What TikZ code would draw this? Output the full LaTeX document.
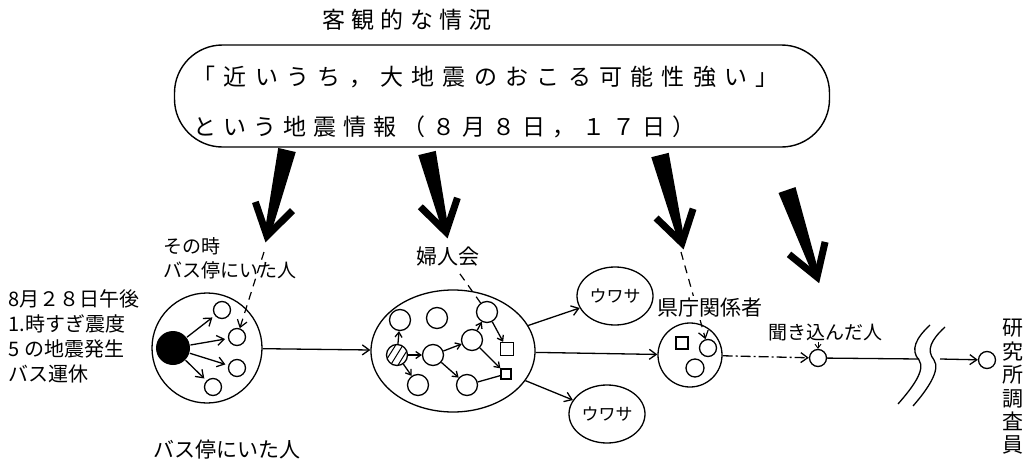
\documentclass[tikz,border=0pt]{standalone}
\usepackage{fontspec}
\setmainfont{Noto Sans CJK JP}
\usetikzlibrary{arrows.meta,calc,shapes.geometric}
\newcommand\fatarrow[2]{%
  \fill ($(#1)!9pt!90:(#2)$) -- ($(#1)!9pt!-90:(#2)$) -- ($(#2)!3pt!90:(#1)$) -- ($(#2)!3pt!-90:(#1)$) -- cycle;
  \draw[line width=7pt, line join=miter, line cap=butt] ($(#2)!36pt!32:(#1)$) -- (#2) -- ($(#2)!36pt!-32:(#1)$);
}
\begin{document}
\begin{tikzpicture}[x=1pt,y=-1pt,
  line width=1.3pt,
  >={Straight Barb[length=7pt,width=10pt]},
  sa/.style={-{Straight Barb[length=5pt,width=7pt]}},
  sc/.style={draw,circle,minimum size=17pt,inner sep=0pt},
  mc/.style={draw,circle,minimum size=21pt,inner sep=0pt},
  sq/.style={draw,rectangle,minimum size=#1,inner sep=0pt},
  dsh/.style={dash pattern=on 8pt off 6pt,line width=1.2pt},
  ff/.style={font=\fontsize{#1}{#1}\selectfont,inner sep=0pt},
  wide/.style={font=\fontsize{23}{27}\selectfont\addfontfeature{LetterSpace=#1},inner sep=0pt}
]
\useasboundingbox (0,0) rectangle (1031,463);

% title and info box
\node[font=\fontsize{23}{27}\selectfont\addfontfeature{LetterSpace=27},inner sep=0pt] (title) at (407,20) {客観的な情況};
\node[draw,rounded corners=48pt,minimum width=655pt,minimum height=102pt,line width=1.4pt] (box) at (502,96) {};
\node[wide=36,anchor=west] (l1) at (192,77) {「近いうち，大地震のおこる可能性強い」};
\node[wide=30,anchor=west] (l2) at (193,127) {という地震情報（８月８日，１７日）};

% big arrows
\coordinate (a1s) at (287,150); \coordinate (a1t) at (267,236);
\coordinate (a2s) at (427,153); \coordinate (a2t) at (446,232);
\coordinate (a3s) at (660,155); \coordinate (a3t) at (682,243);
\coordinate (a4s) at (787,190); \coordinate (a4t) at (817,277);
\fatarrow{a1s}{a1t}
\fatarrow{a2s}{a2t}
\fatarrow{a3s}{a3t}
\fatarrow{a4s}{a4t}

% left text
\node[anchor=north west,align=left,font=\fontsize{20}{25}\selectfont,inner sep=0pt] (event) at (8,289) {8月２８日午後\\1.時すぎ震度\\5 の地震発生\\バス運休};

% group 1: bus stop
\node[draw,circle,minimum size=110pt,inner sep=0pt] (c1) at (207,348) {};
\node[circle,fill=black,minimum size=34pt,inner sep=0pt] (dot) at (173,348) {};
\node[sc] (s1) at (222,310) {};
\node[sc] (s2) at (237,337) {};
\node[sc] (s3) at (237,368) {};
\node[sc] (s4) at (213,387) {};
\foreach \t in {s1,s2,s3,s4} \draw[->,shorten >=3pt] (dot) -- (\t);
\node[anchor=north west,align=left,font=\fontsize{19}{24}\selectfont,inner sep=0pt] (sonotoki) at (163,237) {その時\\バス停にいた人};
\coordinate (d1) at (264,252);
\draw[dsh,->] (d1) -- (s2);
\node[ff=21] (busstop) at (227,450) {バス停にいた人};

% group 2: women's association
\node[draw,ellipse,minimum width=164pt,minimum height=122pt,inner sep=0pt] (e2) at (453,351) {};
\node[mc] (A) at (400,320) {};
\node[mc] (B) at (437,318) {};
\node[mc] (C) at (397,355) {};
\begin{scope}
\clip (397,355) circle (10.5pt);
\draw[line width=1pt] (385,362) -- (397,343) (390,366) -- (403,345) (395,370) -- (408,349);
\end{scope}
\node[mc] (D) at (433,355) {};
\node[mc] (E) at (472,340) {};
\node[mc] (F) at (487,312) {};
\node[mc] (G) at (418,385) {};
\node[mc] (H) at (467,385) {};
\node[sq=13pt] (S1) at (507,349) {};
\node[sq=10pt] (S2) at (506,374) {};
\draw[sa] (C) -- (A);
\draw[sa] (C) -- (D);
\draw[sa] (C) -- (G);
\draw[sa] (D) -- (E);
\draw[sa] (D) -- (H);
\draw[sa] (E) -- (F);
\draw[sa] (F) -- (S1);
\draw[sa] (E) -- (S2);
\draw (H) -- (S2);
\node[ff=21] (fujin) at (448,257) {婦人会};
\draw[dsh,shorten <=8pt] (fujin) -- (F);

\draw[->] (c1) -- (e2);

% rumours
\node[draw,ellipse,minimum width=76pt,minimum height=58pt,inner sep=0pt,font=\fontsize{17}{17}\selectfont] (u1) at (615,296) {ウワサ};
\node[draw,ellipse,minimum width=76pt,minimum height=58pt,inner sep=0pt,font=\fontsize{17}{17}\selectfont] (u2) at (607,414) {ウワサ};
\draw[->] (e2) -- (u1);
\draw[->] (e2) -- (u2);

% prefectural officials
\node[draw,circle,minimum size=64pt,inner sep=0pt] (c3) at (690,355) {};
\node[sq=12pt] (k1) at (682,343) {};
\node[sc] (k2) at (708,348) {};
\node[draw,circle,minimum size=18pt,inner sep=0pt] (k3) at (695,368) {};
\draw[->] (e2) -- (c3);
\coordinate (d3) at (681,252);
\draw[dsh,->] (d3) -- (k2);
\node[ff=21,fill=white,inner ysep=2pt] (kencho) at (710,308) {県庁関係者};

% listener
\node[sc] (L) at (818,358) {};
\draw[->,dash pattern=on 10pt off 3pt on 2pt off 3pt] (c3) -- (L);
\node[ff=19] (kiki) at (825,333) {聞き込んだ人};
\draw[-{Straight Barb[length=4pt,width=6pt]},line width=0.9pt] (L |- kiki.south) -- (L);

% break and researcher
\coordinate (b1) at (919,359);
\coordinate (b2) at (940,359);
\draw (L) -- (b1);
\draw (930,325) .. controls (916,338) and (910,350) .. (919,360) .. controls (926,370) and (912,388) .. (898,404);
\draw (945,327) .. controls (931,340) and (926,350) .. (934,360) .. controls (941,370) and (927,390) .. (913,406);
\node[sc] (R) at (987,360) {};
\draw[->] (b2) -- (R);
\node[align=center,font=\fontsize{21}{23.4}\selectfont,inner sep=0pt] (kenkyu) at (1013,387) {研\\究\\所\\調\\査\\員};
\end{tikzpicture}
\end{document}
